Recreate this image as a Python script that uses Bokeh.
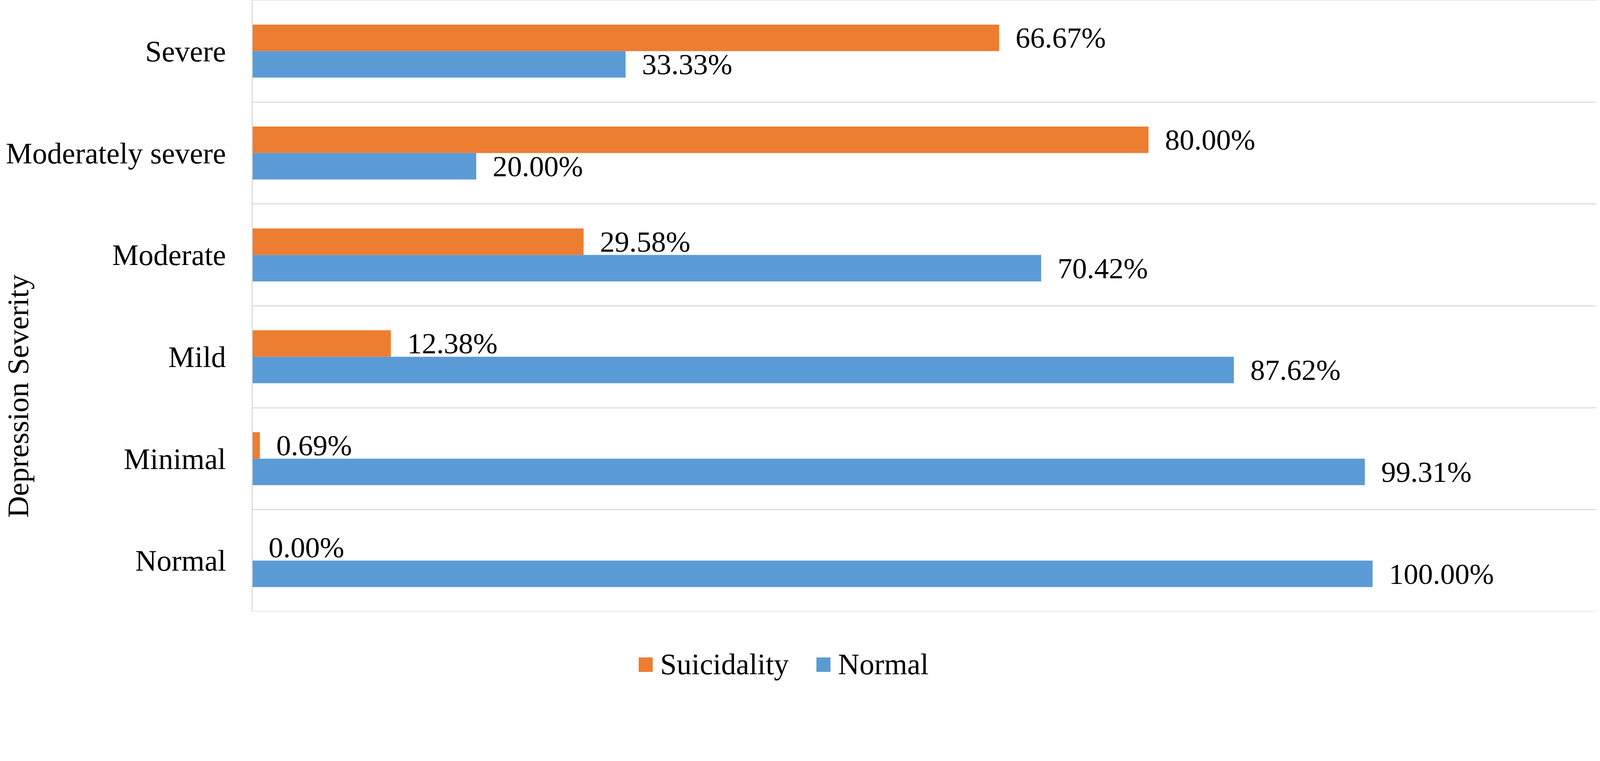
from bokeh.plotting import figure
from bokeh.models import Range1d, FactorRange, Legend, LegendItem, ColumnDataSource
from bokeh.layouts import column
from bokeh.transform import dodge
from bokeh.core.properties import value
from bokeh.embed import file_html
from bokeh.resources import INLINE

# Data (bottom to top)
categories = ["Normal", "Minimal", "Mild", "Moderate", "Moderately severe", "Severe"]
suicidality = [0.00, 0.69, 12.38, 29.58, 80.00, 66.67]
normal = [100.00, 99.31, 87.62, 70.42, 20.00, 33.33]
series_names = ["Suicidality", "Normal"]
axis_title = "Depression Severity"

ORANGE = "#ED7D31"
BLUE = "#5B9BD5"
GRID = "#D9D9D9"
FONT = "Liberation Serif"

src = ColumnDataSource(dict(
    cat=categories,
    sui=suicidality,
    nor=normal,
    sui_lbl=[f"{v:.2f}%" for v in suicidality],
    nor_lbl=[f"{v:.2f}%" for v in normal],
))

W = 4090
p = figure(width=W, height=1566, output_backend="svg", toolbar_location=None,
           y_range=FactorRange(factors=categories, range_padding=0),
           x_range=Range1d(0, 120),
           min_border_left=639, min_border_right=3, min_border_top=0, min_border_bottom=2)
p.outline_line_color = None
p.background_fill_color = "white"
p.border_fill_color = "white"
p.xgrid.visible = False
p.ygrid.visible = False
p.xaxis.visible = False

# category separator lines
p.hspan(y=list(range(len(categories) + 1)), line_color=GRID, line_width=2.7)

bh = 0.26
r1 = p.hbar(y=dodge("cat", bh / 2, range=p.y_range), left=0, right="sui", height=bh,
            source=src, fill_color=ORANGE, line_color=None)
r2 = p.hbar(y=dodge("cat", -bh / 2, range=p.y_range), left=0, right="nor", height=bh,
            source=src, fill_color=BLUE, line_color=None)

p.text(x="sui", y=dodge("cat", bh / 2, range=p.y_range), text="sui_lbl", source=src,
       x_offset=42, text_align="left", text_baseline="middle",
       text_font=value(FONT), text_font_size=value("75px"), text_color="black")
p.text(x="nor", y=dodge("cat", -bh / 2, range=p.y_range), text="nor_lbl", source=src,
       x_offset=42, text_align="left", text_baseline="middle",
       text_font=value(FONT), text_font_size=value("75px"), text_color="black")

yax = p.yaxis[0]
yax.axis_line_color = GRID
yax.axis_line_width = 2.7
yax.major_tick_line_color = None
yax.minor_tick_line_color = None
yax.major_tick_out = 0
yax.major_tick_in = 0
yax.major_label_standoff = 67
yax.major_label_text_font = FONT
yax.major_label_text_font_size = "76px"
yax.major_label_text_color = "black"
# title sits below the vertical centre, as in the reference (non-breaking-space padding)
yax.axis_label = axis_title + "\u00a0" * 24
yax.axis_label_standoff = -77
yax.axis_label_text_font = FONT
yax.axis_label_text_font_size = "77px"
yax.axis_label_text_font_style = "normal"
yax.axis_label_text_color = "black"

# legend strip below the chart
lg = figure(width=W, height=175, output_backend="svg", toolbar_location=None,
            x_range=Range1d(0, 1), y_range=Range1d(0, 1),
            min_border_left=0, min_border_right=0, min_border_top=0, min_border_bottom=0)
lg.outline_line_color = None
lg.background_fill_color = "white"
lg.border_fill_color = "white"
lg.xaxis.visible = False
lg.yaxis.visible = False
lg.xgrid.visible = False
lg.ygrid.visible = False
key_src = ColumnDataSource(dict(y=[0.5], left=[0], right=[0]))
k1 = lg.hbar(y="y", left="left", right="right", height=0, source=key_src, fill_color=ORANGE, line_color=None)
k2 = lg.hbar(y="y", left="left", right="right", height=0, source=key_src, fill_color=BLUE, line_color=None)

legend = Legend(items=[LegendItem(label=series_names[0], renderers=[k1]),
                       LegendItem(label=series_names[1], renderers=[k2])],
                location=(985, -2), orientation="horizontal",
                glyph_width=45, glyph_height=46, label_standoff=15, spacing=66,
                padding=0, margin=0, border_line_color=None, background_fill_alpha=0,
                label_text_font=FONT, label_text_font_size="76px", label_text_color="black")
lg.add_layout(legend)

page = column(p, lg, spacing=0)
open("out.html", "w").write(file_html(page, INLINE))
